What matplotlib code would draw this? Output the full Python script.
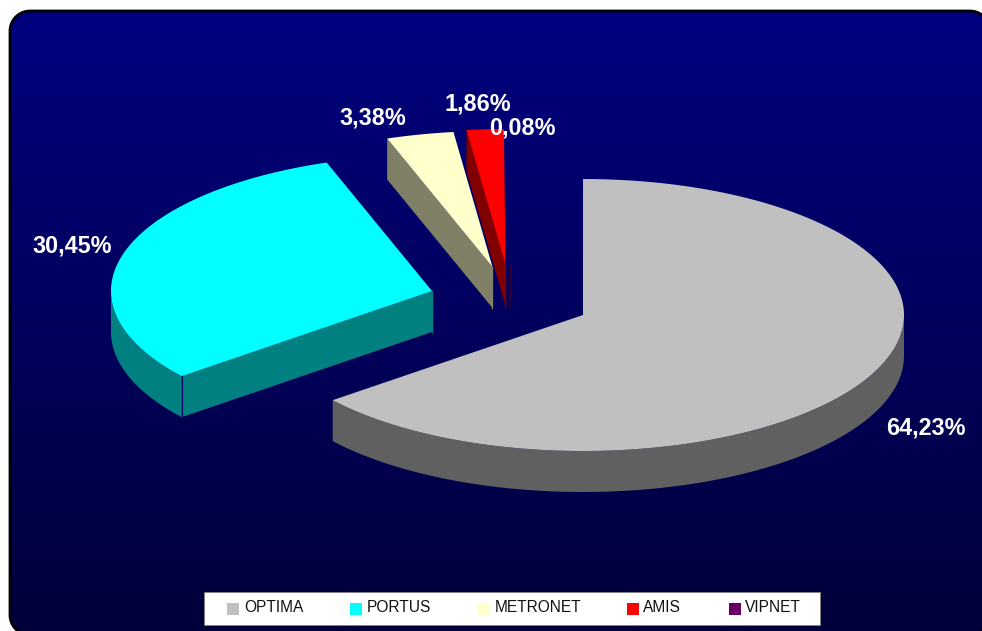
import numpy as np
import matplotlib
matplotlib.use("Agg")
import matplotlib.pyplot as plt
from matplotlib.patches import Polygon, Rectangle

# Chart data
names = ["OPTIMA", "PORTUS", "METRONET", "AMIS", "VIPNET"]
shares = [64.23, 30.45, 3.38, 1.86, 0.08]
labels = ["64,23%", "30,45%", "3,38%", "1,86%", "0,08%"]

# Colours
top_colors = ["#C0C0C0", "#00FFFF", "#FFFFCC", "#FF0000", "#660066"]
side_colors = ["#606060", "#008080", "#808066", "#800000", "#330033"]

# Pie geometry in pixels
cx, cy = 583, 315
rx, ry = 321, 136
depth = 41
explode_x = [0, -151, -90.5, -77.5, -73]
explode_y = [0, -24, -48, -50, -50]
label_x = [926, 72, 373, 478, 522]
label_y = [428.5, 246.5, 118.5, 103.5, 128.5]

# Legend layout
swatch_x = [227, 350, 478, 627, 729]
legend_text_x = [244, 367, 495, 643, 745]

plt.rcParams['font.family'] = ['Liberation Sans', 'DejaVu Sans']

fig = plt.figure(figsize=(9.82, 6.31), dpi=100)
ax = fig.add_axes([0, 0, 1, 1])
ax.axis('off')


# Rounded panel outline with true circular corners
def rounded(x0, y0, x1, y1, r):
    pts = []
    corners = [(x1 - r, y0 + r, -90), (x1 - r, y1 - r, 0), (x0 + r, y1 - r, 90), (x0 + r, y0 + r, 180)]
    for px, py, a in corners:
        t = np.radians(np.linspace(a, a + 90, 30))
        pts.append(np.column_stack([px + r * np.cos(t), py + r * np.sin(t)]))
    return np.vstack(pts)


outline = rounded(10, 11, 990, 635, 20)
panel = Polygon(outline, fc='none', ec='none')
ax.add_patch(panel)
grad = np.linspace(0, 1, 256)[:, None]
rgb = np.zeros((256, 1, 3))
rgb[:, :, 2] = (128 - 70 * grad) / 255
im = ax.imshow(rgb, extent=[10, 990, 635, 11], aspect='auto', zorder=1)
im.set_clip_path(panel)
ax.add_patch(Polygon(outline, fc='none', ec='black', lw=2, zorder=2))
ax.set_xlim(0, 982)
ax.set_ylim(631, 0)


def arc(x0, y0, t0, t1):
    t = np.radians(np.linspace(t0, t1, 200))
    return np.column_stack([x0 + rx * np.sin(t), y0 - ry * np.cos(t)])


ends = np.cumsum(shares) / np.sum(shares) * 360
starts = ends - np.array(shares) / np.sum(shares) * 360

for i in range(len(shares)):
    x0 = cx + explode_x[i]
    y0 = cy + explode_y[i]
    t0, t1 = starts[i], ends[i]
    z = 3 + i
    # slices under 2 px wide only show their front edge
    thin = rx * np.radians(t1 - t0) < 2

    # outer rim, only the part facing the viewer
    a, b = max(t0, 90), min(t1, 270)
    if a < b:
        rim = arc(x0, y0, a, b)
        low = rim[::-1] + [0, depth]
        ax.add_patch(Polygon(np.vstack([rim, low]), fc=side_colors[i], ec='none', zorder=z))

    # cut face at the start of the slice
    if np.sin(np.radians(t0)) < -1e-6:
        p = arc(x0, y0, t0, t0)[0]
        if not thin:
            face = [(x0, y0), p, (p[0], p[1] + depth), (x0, y0 + depth)]
            ax.add_patch(Polygon(face, fc=side_colors[i], ec='none', zorder=z))
        if a < b:
            ax.plot([p[0], p[0]], [p[1], p[1] + depth], color='#000060', lw=0.8, zorder=z)
        ax.plot([x0, x0], [y0, y0 + depth], color=side_colors[i], lw=1, zorder=z)

    # top of the slice
    if not thin:
        top = np.vstack([[(x0, y0)], arc(x0, y0, t0, t1)])
        ax.add_patch(Polygon(top, fc=top_colors[i], ec='none', zorder=z))

for i in range(len(labels)):
    ax.text(label_x[i], label_y[i], labels[i], color='white', fontsize=16.8,
            fontweight='bold', ha='center', va='center', zorder=20)

# Legend box
ax.add_patch(Rectangle((204, 592), 616, 33, fc='white', ec='#808080', lw=0.6, zorder=20))
for i in range(len(names)):
    ax.add_patch(Rectangle((swatch_x[i], 603), 12, 12, fc=top_colors[i], ec='none', zorder=21))
    ax.text(legend_text_x[i], 607.5, names[i], color='#111111', fontsize=11.2,
            ha='left', va='center', zorder=21)

fig.savefig("out.png", dpi=100, facecolor='white')
